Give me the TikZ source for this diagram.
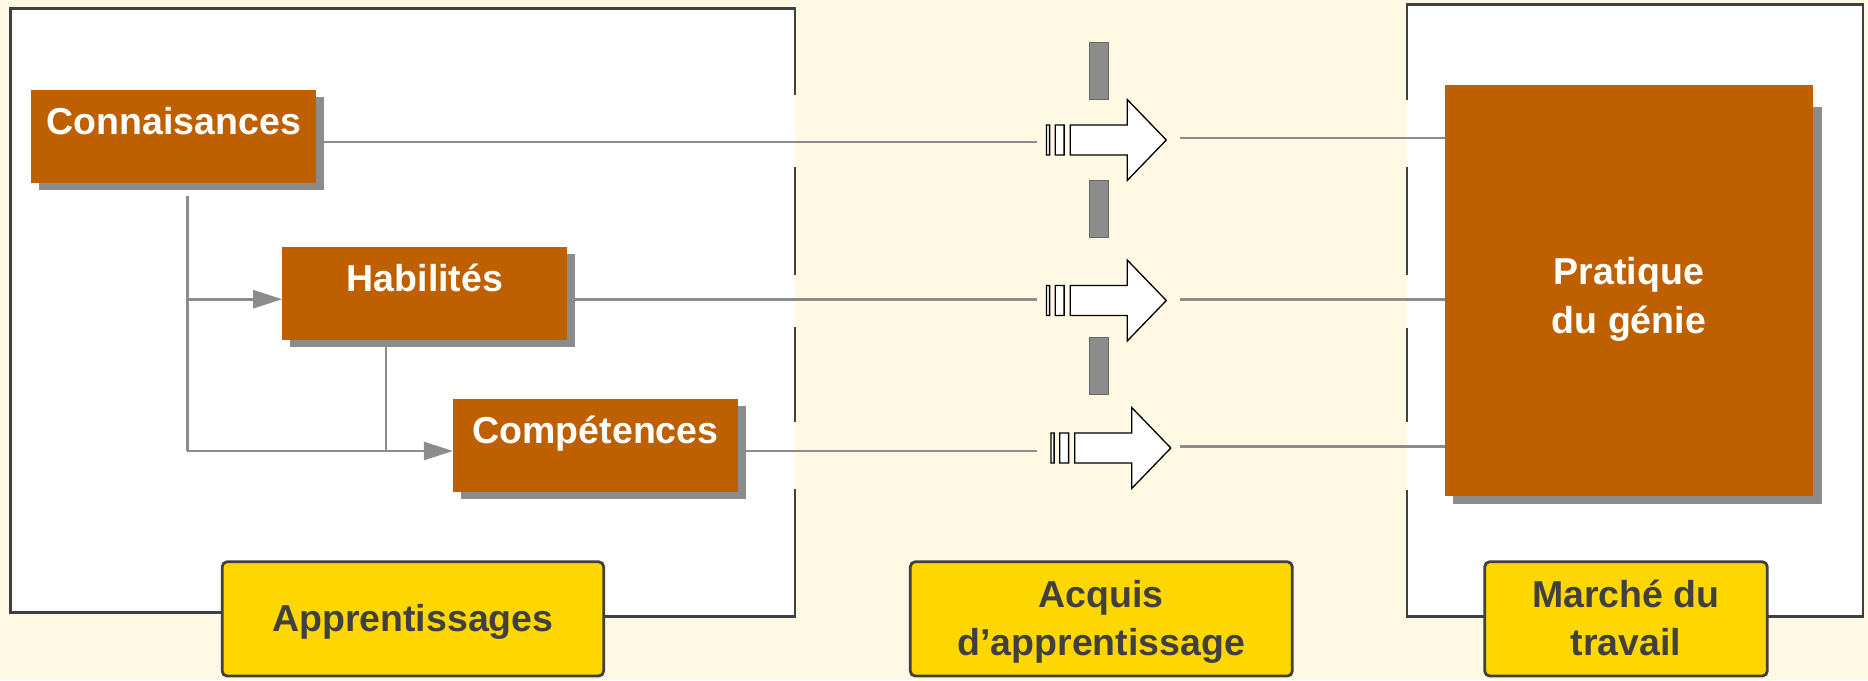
\documentclass[tikz,border=0pt]{standalone}
\usepackage{fontspec}
\setmainfont{Liberation Sans}
\usetikzlibrary{arrows.meta,shadows}
\definecolor{cream}{RGB}{255,249,228}
\definecolor{rust}{RGB}{191,96,0}
\definecolor{shadowgray}{RGB}{140,140,140}
\definecolor{gold}{RGB}{255,215,0}
\definecolor{ink}{RGB}{64,64,64}
\pgfdeclarelayer{frames}
\pgfdeclarelayer{links}
\pgfsetlayers{frames,links,main}

\begin{document}
\begin{tikzpicture}[x=1pt,y=-1pt,
  frame/.style={draw=ink,line width=2.7pt},
  link/.style={draw=shadowgray,line width=2.6pt},
  feed/.style={link,-{Triangle[length=29pt,width=18pt]}},
  skill/.style={fill=rust,text=white,inner sep=0pt,
    minimum width=285pt,minimum height=93.2pt,
    font=\fontsize{37.5pt}{45pt}\selectfont\bfseries,
    text height=10pt,text depth=15pt,
    drop shadow={shadow xshift=8pt,shadow yshift=-7pt,opacity=1,fill=shadowgray}},
  practice/.style={fill=rust,text=white,inner sep=0pt,
    font=\fontsize{37.5pt}{49pt}\selectfont\bfseries,text depth=0pt},
  tag/.style={fill=gold,draw=ink,line width=2.8pt,rounded corners=5pt,
    inner sep=0pt,minimum height=114.3pt,text=ink,
    font=\fontsize{37.5pt}{48.5pt}\selectfont\bfseries,text depth=0pt},
  bar/.style={fill=shadowgray,draw=ink!80,line width=1pt},
  pics/blockarrow/.style={code={
    \path[draw=black,line width=1.3pt,fill=white,line join=miter]
      (0,-15) rectangle (3.1,15)
      (8.8,-15) rectangle (17.6,15)
      (23.8,-15) -- (80.8,-15) -- (80.8,-40.4) -- (119.8,0)
      -- (80.8,40.4) -- (80.8,15) -- (23.8,15) -- cycle;
  }}
]
\useasboundingbox (0,0) rectangle (1868,680);

% backdrop and the two open frames
\begin{pgfonlayer}{frames}
  \fill[cream] (0,0) rectangle (1868,680);
  \fill[white] (10.5,8.7) -- (795,8.7) -- (795,616.7) -- (413,616.7)
    -- (413,612.3) -- (10.5,612.3) -- cycle;
  \draw[frame] (795,94.5) -- (795,8.7) -- (10.5,8.7) -- (10.5,612.3) -- (221,612.3);
  \draw[frame] (605,616.7) -- (795,616.7) -- (795,489);
  \draw[frame] (795,167) -- (795,275);
  \draw[frame] (795,327) -- (795,421.5);

  \fill[white] (1407,4.3) rectangle (1863,616.7);
  \draw[frame] (1407,99.7) -- (1407,4.3) -- (1863,4.3) -- (1863,616.7)
    -- (1407,616.7) -- (1407,490);
  \draw[frame] (1407,167) -- (1407,274.5);
  \draw[frame] (1407,328) -- (1407,421.5);
\end{pgfonlayer}

% learning outcomes
\node[skill] (conn) at (173.9,136.8) {Connaisances};
\node[skill] (hab) at (424.9,293.8) {Habilités};
\node[skill] (comp) at (595.6,445.8) {Compétences};

% engineering practice
\fill[shadowgray] (1452.7,107) rectangle (1822,504.4);
\node[practice,minimum width=367.7pt,minimum height=410.7pt,text height=87pt]
  (prat) at (1628.9,290.4) {\parbox[b]{340pt}{\centering Pratique\\du génie}};

% barrier and passing arrows
\draw[bar] (1089.4,42.5) rectangle (1108.5,99.7);
\draw[bar] (1089.4,180) rectangle (1108.5,237.6);
\draw[bar] (1089.4,337) rectangle (1108.5,394.6);
\pic at (1046.5,140) {blockarrow};
\pic at (1046.5,300.5) {blockarrow};
\pic at (1051,448) {blockarrow};

% captions
\node[tag,minimum width=381.5pt,text height=24.2pt] (appr) at (412.9,618.9) {Apprentissages};
\node[tag,minimum width=382pt,text height=73.6pt] (acq) at (1101.3,618.9)
  {\parbox[b]{360pt}{\centering Acquis\\d’apprentissage}};
\node[tag,minimum width=282.6pt,text height=73.6pt] (march) at (1626,618.9)
  {\parbox[b]{260pt}{\centering Marché du\\travail}};

% connector end points
\coordinate (in1) at (1037,142);
\coordinate (in2) at (1037,299.2);
\coordinate (in3) at (1037,451);
\coordinate (out1) at (1180,138);
\coordinate (out2) at (1180,299.2);
\coordinate (out3) at (1180,446.2);
\coordinate (trunk) at (187.2,451);
\coordinate (split) at (187.2,299.2);
\coordinate (join) at (386,451);

\begin{pgfonlayer}{links}
  \draw[link] (conn.east |- in1) -- (in1);
  \draw[link] (hab.east |- in2) -- (in2);
  \draw[link] (comp.east |- in3) -- (in3);
  \draw[link] (out1) -- (out1 -| prat.west);
  \draw[link] (out2) -- (out2 -| prat.west);
  \draw[link] (out3) -- (out3 -| prat.west);
  \draw[link,shorten <=12pt] (conn.south -| trunk) -- (trunk);
  \draw[feed] (trunk) -- (trunk -| comp.west);
  \draw[feed] (split) -- (split -| hab.west);
  \draw[link] (hab.south -| join) -- (join);
\end{pgfonlayer}
\end{tikzpicture}
\end{document}
